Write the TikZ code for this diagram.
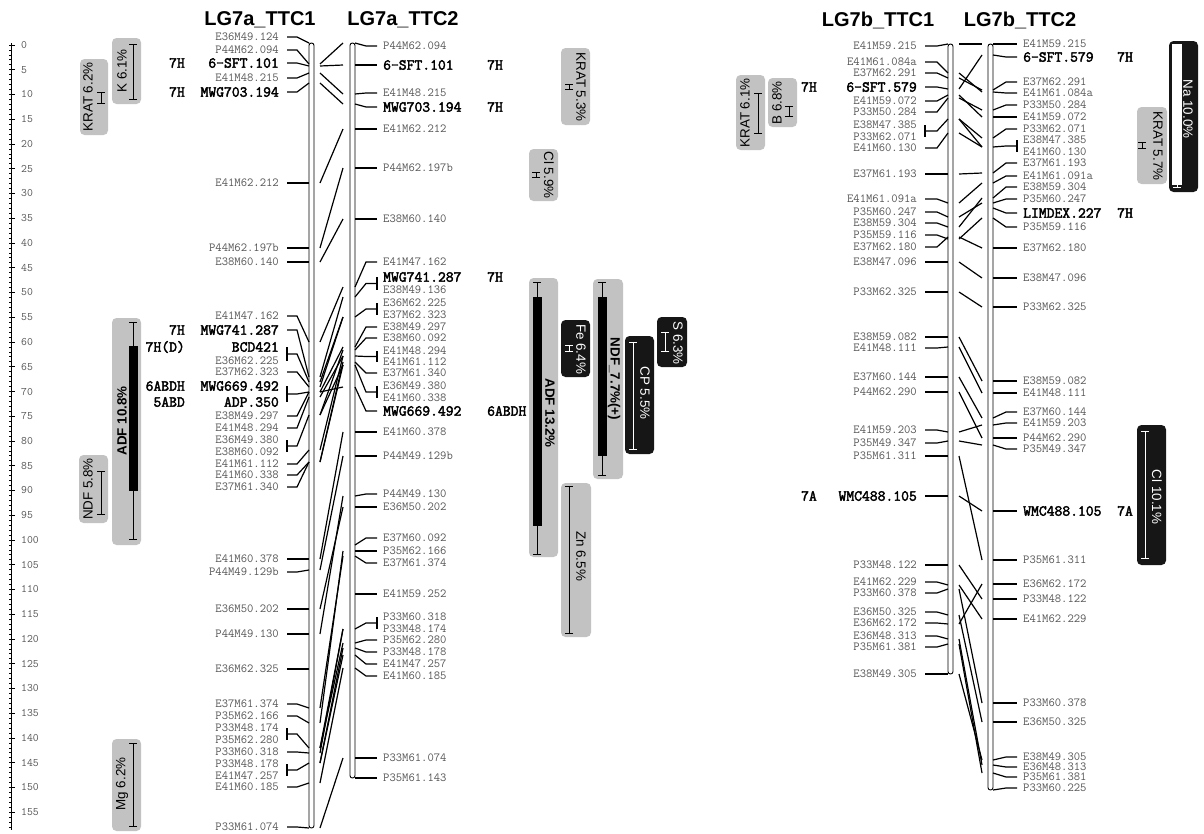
\documentclass[tikz,border=0pt]{standalone}
\usepackage{fontspec}
\setmainfont{Liberation Sans}
\newfontface\mkboldface{Latin Modern Mono}[FakeBold=2.6]
\usetikzlibrary{arrows.meta,calc}
\definecolor{QtlGray}{HTML}{C2C2C2}
\definecolor{QtlBlack}{HTML}{161616}
\definecolor{MarkGray}{HTML}{555555}
\newcommand\mkn{}
\newcommand\mkbf{\mkboldface\fontsize{15.2}{15.2}\selectfont\color{black}}
\begin{document}
\begin{tikzpicture}[x=1pt,y=-1pt,
    mk/.style={font=\ttfamily\fontsize{12.3}{12.3}\selectfont,text=MarkGray,inner sep=0pt},
    tag/.style={font=\mkboldface\fontsize{15.2}{15.2}\selectfont,inner sep=0pt},
    ruler/.style={font=\ttfamily\fontsize{11.4}{11.4}\selectfont,text=MarkGray,inner sep=0pt},
    title/.style={font=\bfseries\fontsize{20}{20}\selectfont,inner sep=0pt},
    link/.style={line width=1.2pt},
    chrom/.style={draw,fill=white,line width=.9pt,rounded corners=2.4pt},
    qgray/.style={fill=QtlGray,rounded corners=4.5pt},
    qblack/.style={fill=QtlBlack,rounded corners=4.5pt},
    qtext/.style={font=\fontsize{13.4}{13.4}\selectfont,inner sep=0pt},
    qbold/.style={font=\bfseries\fontsize{13.4}{13.4}\selectfont,inner sep=0pt},
    qint/.style={line width=1pt,{Bar[width=8pt,line width=1pt]}-{Bar[width=8pt,line width=1pt]}}]
  \useasboundingbox (0,0) rectangle (1204,833);

  % scale in cM
  \draw[line width=1pt] (11.5,43) -- (11.5,830);
  \foreach \c in {0,...,158}
    \draw[line width=.8pt] (9,{45+4.95*\c}) -- (11.5,{45+4.95*\c});
  \foreach \c in {0,5,...,155} {
    \draw[line width=1pt] (9,{45+4.95*\c}) -- (15,{45+4.95*\c});
    \node[ruler,anchor=west] (r\c) at (21,{45+4.95*\c}) {\c};
  }

  % titles
  \node[title] (t1) at (260,20) {LG7a\_TTC1};
  \node[title] (t2) at (403,20) {LG7a\_TTC2};
  \node[title] (t3) at (878,20) {LG7b\_TTC1};
  \node[title] (t4) at (1020,20) {LG7b\_TTC2};

  % chromosomes
  \draw[chrom] (309,43) rectangle (314,828);
  \draw[chrom] (350,43) rectangle (355,778);
  \draw[chrom] (948,44) rectangle (953,674);
  \draw[chrom] (988,44) rectangle (993,790);

  % LG7a_TTC1 markers
  \foreach \n/\t/\ly/\by/\w in {a1/E36M49.124/37/43/\mkn, a2/P44M62.094/50/64/\mkn,
      a3/6-SFT.101/63/66/\mkbf, a4/E41M48.215/78/73/\mkn, a5/MWG703.194/92/83/\mkbf,
      a6/E41M62.212/183/183/\mkn, a7/P44M62.197b/248/248/\mkn, a8/E38M60.140/262/262/\mkn,
      a9/E41M47.162/316/342/\mkn, a10/MWG741.287/330/377/\mkbf, a11/BCD421/347/382/\mkbf,
      a12/E36M62.225/361/382/\mkn, a13/E37M62.323/372/387/\mkn, a14/MWG669.492/386/392/\mkbf,
      a15/ADP.350/402/392/\mkbf, a16/E38M49.297/416/392/\mkn, a17/E41M48.294/428/397/\mkn,
      a18/E36M49.380/440/415/\mkn, a19/E38M60.092/452/415/\mkn, a20/E41M61.112/464/450/\mkn,
      a21/E41M60.338/475/462/\mkn, a22/E37M61.340/487/462/\mkn, a23/E41M60.378/559/559/\mkn,
      a24/P44M49.129b/572/570/\mkn, a25/E36M50.202/609/609/\mkn, a26/P44M49.130/634/634/\mkn,
      a27/E36M62.325/669/669/\mkn, a28/E37M61.374/704/708/\mkn, a29/P35M62.166/716/723/\mkn,
      a30/P33M48.174/728/748/\mkn, a31/P35M62.280/740/748/\mkn, a32/P33M60.318/752/753/\mkn,
      a33/P33M48.178/764/763/\mkn, a34/E41M47.257/776/763/\mkn, a35/E41M60.185/787/783/\mkn,
      a36/P33M61.074/827/828/\mkn} {
    \node[mk,anchor=east] (\n) at (279,\ly) {\w\t};
    \coordinate (p\n) at (311.5,\by);
  }
  \foreach \n in {a1,a2,a3,a4,a5,a6,a7,a8,a9,a10,a13,a16,a17,a20,a21,a22,a23,a24,a25,a26,a27,a28,a29,a32,a35,a36}
    \draw[link] ([xshift=8pt]\n.east) -- ++(10,0) -- ([xshift=-2.5pt]p\n);
  \foreach \n/\m in {a11/a12,a14/a15,a18/a19,a30/a31,a33/a34} {
    \draw[link] ([xshift=8pt]\n.east) -- ([xshift=8pt]\m.east);
    \draw[link] ($([xshift=8pt]\n.east)!.5!([xshift=8pt]\m.east)$) -- ++(10,0) -- ([xshift=-2.5pt]p\n);
  }
  \foreach \n/\t in {a3/7H,a5/7H,a10/7H,a11/7H(D),a14/6ABDH,a15/5ABD}
    \node[tag,anchor=base east] (g\n) at (185,0 |- \n.base) {\t};

  % LG7a_TTC2 markers
  \foreach \n/\t/\ly/\by/\w in {b1/P44M62.094/46/43/\mkn, b2/6-SFT.101/65/65/\mkbf,
      b3/E41M48.215/93/94/\mkn, b4/MWG703.194/107/104/\mkbf, b5/E41M62.212/129/129/\mkn,
      b6/P44M62.197b/168/168/\mkn, b7/E38M60.140/219/219/\mkn, b8/E41M47.162/262/287/\mkn,
      b9/MWG741.287/277/297/\mkbf, b10/E38M49.136/290/297/\mkn, b11/E36M62.225/303/317/\mkn,
      b12/E37M62.323/315/317/\mkn, b13/E38M49.297/327/347/\mkn, b14/E38M60.092/338/350/\mkn,
      b15/E41M48.294/351/356/\mkn, b16/E41M61.112/362/356/\mkn, b17/E37M61.340/373/362/\mkn,
      b18/E36M49.380/386/365/\mkn, b19/E41M60.338/398/365/\mkn, b20/MWG669.492/411/387/\mkbf,
      b21/E41M60.378/432/432/\mkn, b22/P44M49.129b/456/456/\mkn, b23/P44M49.130/494/496/\mkn,
      b24/E36M50.202/507/507/\mkn, b25/E37M60.092/538/545/\mkn, b26/P35M62.166/551/551/\mkn,
      b27/E37M61.374/563/556/\mkn, b28/E41M59.252/594/594/\mkn, b29/P33M60.318/617/629/\mkn,
      b30/P33M48.174/629/629/\mkn, b31/P35M62.280/640/643/\mkn, b32/P33M48.178/652/648/\mkn,
      b33/E41M47.257/664/655/\mkn, b34/E41M60.185/676/668/\mkn, b35/P33M61.074/758/758/\mkn,
      b36/P35M61.143/778/778/\mkn} {
    \node[mk,anchor=west] (\n) at (383,\ly) {\w\t};
    \coordinate (p\n) at (352.5,\by);
  }
  \foreach \n in {b1,b2,b3,b4,b5,b6,b7,b8,b13,b14,b17,b20,b21,b22,b23,b24,b25,b26,b27,b28,b31,b32,b33,b34,b35,b36}
    \draw[link] ([xshift=2.5pt]p\n) -- ([xshift=-17pt]\n.west) -- ([xshift=-6pt]\n.west);
  \foreach \n/\m in {b9/b10,b11/b12,b15/b16,b18/b19,b29/b30} {
    \draw[link] ([xshift=-6pt]\n.west) -- ([xshift=-6pt]\m.west);
    \draw[link] ($([xshift=-6pt]\n.west)!.5!([xshift=-6pt]\m.west)$) -- ++(-11,0) -- ([xshift=2.5pt]p\n);
  }
  \foreach \n/\t in {b2/7H,b4/7H,b9/7H,b20/6ABDH}
    \node[tag,anchor=base west] (g\n) at (487,0 |- \n.base) {\t};

  % LG7a homologous markers
  \foreach \u/\v in {a2/b1,a3/b2,a4/b3,a5/b4,a6/b5,a7/b6,a8/b7,a9/b8,a10/b9,a12/b11,a13/b12,
      a14/b20,a16/b13,a17/b15,a18/b18,a19/b14,a20/b16,a21/b19,a22/b17,a23/b21,a24/b22,a25/b24,
      a26/b23,a28/b27,a29/b26,a30/b30,a31/b31,a32/b29,a33/b32,a34/b33,a35/b34,a36/b35}
    \draw[link] ([xshift=8.5pt]p\u) -- ([xshift=-9.5pt]p\v);

  % LG7b_TTC1 markers
  \foreach \n/\t/\ly/\by/\w in {c1/E41M59.215/46/44/\mkn, c2/E41M61.084a/62/73/\mkn,
      c3/E37M62.291/73/78/\mkn, c4/6-SFT.579/87/89/\mkbf, c5/E41M59.072/101/95/\mkn,
      c6/P33M50.284/112/98/\mkn, c7/E38M47.385/125/119/\mkn, c8/P33M62.071/137/119/\mkn,
      c9/E41M60.130/148/133/\mkn, c10/E37M61.193/174/174/\mkn, c11/E41M61.091a/199/203/\mkn,
      c12/P35M60.247/212/217/\mkn, c13/E38M59.304/223/227/\mkn, c14/P35M59.116/235/239/\mkn,
      c15/E37M62.180/247/237/\mkn, c16/E38M47.096/262/262/\mkn, c17/P33M62.325/292/292/\mkn,
      c18/E38M59.082/337/337/\mkn, c19/E41M48.111/348/347/\mkn, c20/E37M60.144/377/377/\mkn,
      c21/P44M62.290/392/392/\mkn, c22/E41M59.203/430/432/\mkn, c23/P35M49.347/443/441/\mkn,
      c24/P35M61.311/456/456/\mkn, c25/WMC488.105/496/496/\mkbf, c26/P33M48.122/565/565/\mkn,
      c27/E41M62.229/582/585/\mkn, c28/P33M60.378/593/589/\mkn, c29/E36M50.325/612/615/\mkn,
      c30/E36M62.172/623/624/\mkn, c31/E36M48.313/636/639/\mkn, c32/P35M61.381/647/644/\mkn,
      c33/E38M49.305/674/674/\mkn} {
    \node[mk,anchor=east] (\n) at (917,\ly) {\w\t};
    \coordinate (p\n) at (950.5,\by);
  }
  \foreach \n in {c1,c2,c3,c4,c5,c6,c9,c10,c11,c12,c13,c14,c15,c16,c17,c18,c19,c20,c21,c22,c23,c24,c25,c26,c27,c28,c29,c30,c31,c32,c33}
    \draw[link] ([xshift=8pt]\n.east) -- ++(12,0) -- ([xshift=-2.5pt]p\n);
  \foreach \n/\m in {c7/c8} {
    \draw[link] ([xshift=8pt]\n.east) -- ([xshift=8pt]\m.east);
    \draw[link] ($([xshift=8pt]\n.east)!.5!([xshift=8pt]\m.east)$) -- ++(12,0) -- ([xshift=-2.5pt]p\n);
  }
  \foreach \n/\t in {c4/7H,c25/7A}
    \node[tag,anchor=base east] (g\n) at (817,0 |- \n.base) {\t};

  % LG7b_TTC2 markers
  \foreach \n/\t/\ly/\by/\w in {d1/E41M59.215/44/44/\mkn, d2/6-SFT.579/57/55/\mkbf,
      d3/E37M62.291/82/90/\mkn, d4/E41M61.084a/93/92/\mkn, d5/P33M50.284/105/110/\mkn,
      d6/E41M59.072/117/117/\mkn, d7/P33M62.071/129/138/\mkn, d8/E38M47.385/140/147/\mkn,
      d9/E41M60.130/152/147/\mkn, d10/E37M61.193/163/173/\mkn, d11/E41M61.091a/176/183/\mkn,
      d12/E38M59.304/187/198/\mkn, d13/P35M60.247/199/203/\mkn, d14/LIMDEX.227/213/208/\mkbf,
      d15/P35M59.116/227/218/\mkn, d16/E37M62.180/248/248/\mkn, d17/E38M47.096/278/278/\mkn,
      d18/P33M62.325/307/307/\mkn, d19/E38M59.082/381/381/\mkn, d20/E41M48.111/393/393/\mkn,
      d21/E37M60.144/412/418/\mkn, d22/E41M59.203/423/425/\mkn, d23/P44M62.290/438/438/\mkn,
      d24/P35M49.347/449/445/\mkn, d25/WMC488.105/511/511/\mkbf, d26/P35M61.311/560/560/\mkn,
      d27/E36M62.172/584/584/\mkn, d28/P33M48.122/599/599/\mkn, d29/E41M62.229/619/619/\mkn,
      d30/P33M60.378/703/703/\mkn, d31/E36M50.325/722/722/\mkn, d32/E38M49.305/757/760/\mkn,
      d33/E36M48.313/767/765/\mkn, d34/P35M61.381/777/773/\mkn, d35/P33M60.225/788/790/\mkn} {
    \node[mk,anchor=west] (\n) at (1023,\ly) {\w\t};
    \coordinate (p\n) at (990.5,\by);
  }
  \foreach \n in {d1,d2,d3,d4,d5,d6,d7,d10,d11,d12,d13,d14,d15,d16,d17,d18,d19,d20,d21,d22,d23,d24,d25,d26,d27,d28,d29,d30,d31,d32,d33,d34,d35}
    \draw[link] ([xshift=2.5pt]p\n) -- ([xshift=-17pt]\n.west) -- ([xshift=-6pt]\n.west);
  \foreach \n/\m in {d8/d9} {
    \draw[link] ([xshift=-6pt]\n.west) -- ([xshift=-6pt]\m.west);
    \draw[link] ($([xshift=-6pt]\n.west)!.5!([xshift=-6pt]\m.west)$) -- ++(-11,0) -- ([xshift=2.5pt]p\n);
  }
  \foreach \n/\t in {d2/7H,d14/7H,d25/7A}
    \node[tag,anchor=base west] (g\n) at (1117,0 |- \n.base) {\t};

  % LG7b homologous markers
  \foreach \u/\v in {c1/d1,c2/d4,c3/d3,c4/d2,c5/d6,c6/d5,c7/d8,c8/d7,c9/d9,c10/d10,c11/d11,
      c12/d13,c13/d12,c14/d15,c15/d16,c16/d17,c17/d18,c18/d19,c19/d20,c20/d21,c21/d23,c22/d22,
      c23/d24,c24/d26,c25/d25,c26/d28,c27/d29,c28/d30,c29/d31,c30/d27,c31/d33,c32/d34,c33/d32}
    \draw[link] ([xshift=8.5pt]p\u) -- ([xshift=-8.5pt]p\v);

  % QTL intervals, LG7a
  \path[qgray] (80,59) rectangle (108,135);
  \node[qtext,rotate=90] (q1) at (88,97) {KRAT 6.2\%};
  \draw[qint] (101,92) -- (101,104);
  \path[qgray] (112,38) rectangle (141,104);
  \node[qtext,rotate=90] (q2) at (122,71) {K 6.1\%};
  \draw[qint] (133,44) -- (133,100);
  \path[qgray] (112,318) rectangle (141,545);
  \draw[qint] (133,322) -- (133,540);
  \fill (128.5,346) rectangle (137.5,491);
  \node[qbold,rotate=90] (q3) at (122,421) {ADF 10.8\%};
  \path[qgray] (79,455) rectangle (108,523);
  \node[qtext,rotate=90] (q4) at (88,489) {NDF 5.8\%};
  \draw[qint] (101,471) -- (101,515);
  \path[qgray] (112,739) rectangle (141,831);
  \node[qtext,rotate=90] (q5) at (122,784) {Mg 6.2\%};
  \draw[qint] (133,743) -- (133,827);

  \path[qgray] (561,48) rectangle (590,125);
  \node[qtext,rotate=-90] (q6) at (581,87) {KRAT 5.3\%};
  \draw[qint] (569,84) -- (569,90);
  \path[qgray] (529,149) rectangle (558,201);
  \node[qtext,rotate=-90] (q7) at (549,175) {Cl 5.9\%};
  \draw[qint] (536,172) -- (536,178);
  \path[qgray] (529,278) rectangle (558,557);
  \draw[qint] (537,282) -- (537,555);
  \fill (532.5,297) rectangle (541.5,526);
  \node[qbold,rotate=-90] (q8) at (550,413) {ADF 13.2\%};
  \path[qblack] (561,320) rectangle (590,377);
  \node[qtext,text=white,rotate=-90] (q9) at (581,349) {Fe 6.4\%};
  \draw[qint,white] (569,345) -- (569,352);
  \path[qgray] (593,279) rectangle (623,479);
  \draw[qint] (602,282) -- (602,476);
  \fill (597.5,297) rectangle (606.5,456);
  \node[qbold,rotate=-90] (q10) at (614,379) {NDF\_7.7\%(+)};
  \path[qblack] (625,336) rectangle (654,454);
  \draw[qint,white] (633,342) -- (633,450);
  \node[qtext,text=white,rotate=-90] (q11) at (645,393) {CP 5.5\%};
  \path[qblack] (657,317) rectangle (687,367);
  \draw[qint,white] (665,332) -- (665,352);
  \node[qtext,text=white,rotate=-90] (q12) at (678,343) {S 6.3\%};
  \path[qgray] (561,483) rectangle (591,637);
  \draw[qint] (569,486) -- (569,634);
  \node[qtext,rotate=-90] (q13) at (581,556) {Zn 6.5\%};

  % QTL intervals, LG7b
  \path[qgray] (736,75) rectangle (765,150);
  \node[qtext,rotate=90] (q14) at (745,113) {KRAT 6.1\%};
  \draw[qint] (758,93) -- (758,134);
  \path[qgray] (768,78) rectangle (797,127);
  \node[qtext,rotate=90] (q15) at (777,103) {B 6.8\%};
  \draw[qint] (789,106) -- (789,117);
  \path[qblack] (1169,41) rectangle (1198,192);
  \draw[qint,white] (1177,44) -- (1177,188);
  \fill[white] (1172,44) rectangle (1182,185);
  \node[qtext,text=white,rotate=-90] (q16) at (1188,109) {Na 10.0\%};
  \path[qgray] (1137,107) rectangle (1167,184);
  \node[qtext,rotate=-90] (q17) at (1158,146) {KRAT 5.7\%};
  \draw[qint] (1142,142) -- (1142,149);
  \path[qblack] (1137,425) rectangle (1166,565);
  \draw[qint,white] (1145,431) -- (1145,559);
  \node[qtext,text=white,rotate=-90] (q18) at (1157,497) {Cl 10.1\%};
\end{tikzpicture}
\end{document}
